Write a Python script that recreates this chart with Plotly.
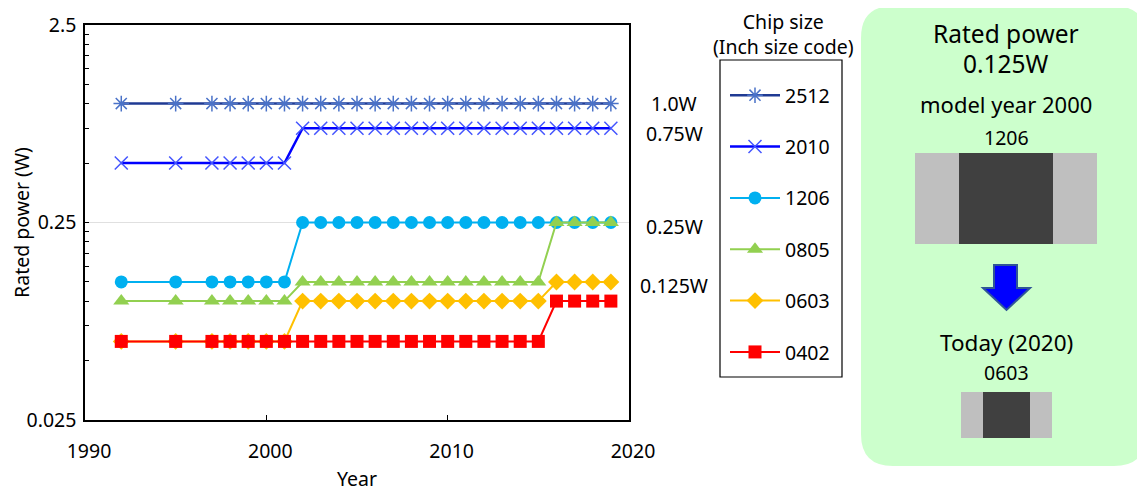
import plotly.graph_objects as go

years = [1992, 1995, 1997, 1998, 1999, 2000, 2001, 2002, 2003, 2004, 2005, 2006, 2007,
         2008, 2009, 2010, 2011, 2012, 2013, 2014, 2015, 2016, 2017, 2018, 2019]

# rated power (W) per chip size code
p2512 = [1.0] * 25
p2010 = [0.5] * 7 + [0.75] * 18
p1206 = [0.125] * 7 + [0.25] * 18
p0805 = [0.1] * 7 + [0.125] * 14 + [0.25] * 4
p0603 = [0.0625] * 7 + [0.1] * 14 + [0.125] * 4
p0402 = [0.0625] * 21 + [0.1] * 4

series_names = ["2512", "2010", "1206", "0805", "0603", "0402"]
series_vals = [p2512, p2010, p1206, p0805, p0603, p0402]
line_colors = ["#1F3A93", "#0000FF", "#00B0F0", "#92D050", "#FFC000", "#FF0000"]
marker_colors = ["#4A72C8", "#4455FF", "#00B0F0", "#92D050", "#FFC000", "#FF0000"]
symbols = ["asterisk-open", "x-thin-open", "circle", "triangle-up", "diamond", "square"]
msizes = [13, 13, 13, 14, 13, 13]
lwidths = [2.5, 2.5, 2, 2, 2, 2]

y_major = [0.025, 0.25, 2.5]
y_major_text = ["0.025", "0.25", "2.5"]
y_minor = [0.05, 0.075, 0.1, 0.125, 0.15, 0.175, 0.2, 0.225,
           0.5, 0.75, 1.0, 1.25, 1.5, 1.75, 2.0, 2.25]
x_ticks = [1990, 2000, 2010, 2020]

# page has an 8px body margin; work in screen pixels
OFF = 8
W, H = 1145 - OFF, 500 - 2 * OFF
L, R, T, B = 85, 629, 25, 420  # plot area in screen pixels


def px(x):
    return (x - L) / (R - L)


def py(y):
    return (B - y) / (B - T)


FONT = "Noto Sans, Open Sans, sans-serif"
FS = 19.5

fig = go.Figure()
for name, vals, lc, mc, sym, ms, lw in zip(series_names, series_vals, line_colors,
                                             marker_colors, symbols, msizes, lwidths):
    open_sym = sym.endswith("open")
    fig.add_trace(go.Scatter(
        x=years, y=vals, name=name, mode="lines+markers",
        legendgroup=name,
        line=dict(color=lc, width=lw),
        marker=dict(symbol=sym, size=ms, color=mc,
                    line=dict(color=mc, width=1.5 if open_sym else 0)),
    ))

fig.update_layout(
    width=W, height=H,
    margin=dict(l=L - OFF, r=W - (R - OFF), t=T - OFF, b=H - (B - OFF),
                autoexpand=False),
    paper_bgcolor="white", plot_bgcolor="white",
    font=dict(family=FONT, size=FS, color="black"),
    showlegend=True,
    legend=dict(
        x=px(725), y=py(76), xanchor="left", yanchor="top",
        borderwidth=0, bgcolor="rgba(0,0,0,0)",
        traceorder="grouped", tracegroupgap=23,
        font=dict(size=FS), itemwidth=50,
    ),
    xaxis=dict(
        range=[1990, 2020], tickvals=x_ticks, ticks="inside", ticklen=5,
        tickcolor="black", showline=True, linecolor="black", linewidth=1.5,
        mirror=True, showgrid=False, zeroline=False, automargin=False,
        ticklabelstandoff=13, ticklabelshift=4,
        title=dict(text="Year", standoff=24, font=dict(size=FS)),
    ),
    yaxis=dict(
        type="log", range=[-1.60206, 0.39794],
        tickvals=y_major, ticktext=y_major_text, ticks="inside", ticklen=4,
        tickcolor="black", showline=True, linecolor="black", linewidth=1.5,
        mirror=True, showgrid=True, gridcolor="#E0E0E0", gridwidth=1,
        zeroline=False, ticklabelstandoff=3, automargin=False,
        minor=dict(tickmode="array", tickvals=y_minor, ticks="inside",
                   ticklen=4, tickcolor="black", showgrid=False),
        title=dict(text="Rated power (W)", standoff=18, font=dict(size=FS)),
    ),
)

annotations = []


def txt(text, x, y, size=FS):
    annotations.append(dict(text=text, x=px(x), y=py(y), xref="paper", yref="paper",
                            showarrow=False, xanchor="center", yanchor="middle",
                            font=dict(size=size, family=FONT, color="black")))


# line labels on right of plot
txt("1.0W", 674, 104)
txt("0.75W", 674, 133)
txt("0.25W", 674, 226)
txt("0.125W", 674, 285)

# legend title (two lines)
txt("Chip size<br>(Inch size code)", 783, 33.5)

shapes = []

# legend frame
shapes.append(dict(type="rect", xref="paper", yref="paper",
                   x0=px(720), x1=px(842), y0=py(377), y1=py(60),
                   fillcolor="rgba(0,0,0,0)", line=dict(color="black", width=1.2)))

# rounded green panel
x0, x1, y0, y1, r = 861, 1146, 6, 466, 32
path = (f"M {px(x0 + r)},{py(y0)} L {px(x1 - r)},{py(y0)} "
        f"Q {px(x1)},{py(y0)} {px(x1)},{py(y0 + r)} "
        f"L {px(x1)},{py(y1 - r)} Q {px(x1)},{py(y1)} {px(x1 - r)},{py(y1)} "
        f"L {px(x0 + r)},{py(y1)} Q {px(x0)},{py(y1)} {px(x0)},{py(y1 - r)} "
        f"L {px(x0)},{py(y0 + r)} Q {px(x0)},{py(y0)} {px(x0 + r)},{py(y0)} Z")
shapes.append(dict(type="path", path=path, xref="paper", yref="paper",
                   fillcolor="#CCFFCC", line=dict(width=0), layer="below"))


def rect(xa, ya, xb, yb, color):
    shapes.append(dict(type="rect", xref="paper", yref="paper",
                       x0=px(xa), x1=px(xb), y0=py(yb), y1=py(ya),
                       fillcolor=color, line=dict(width=0)))


# 1206 chip
rect(915, 153, 1097, 244, "#BFBFBF")
rect(959, 153, 1053, 244, "#404040")
# 0603 chip
rect(961, 392, 1052, 438, "#BFBFBF")
rect(983, 392, 1030, 438, "#404040")

# down arrow
arrow_pts = [(994, 265), (1017, 265), (1017, 288), (1030, 288), (1006.5, 310),
             (983, 288), (994, 288)]
apath = "M " + " L ".join(f"{px(a)},{py(b)}" for a, b in arrow_pts) + " Z"
shapes.append(dict(type="path", path=apath, xref="paper", yref="paper",
                   fillcolor="#0000FF", line=dict(color="#2F5597", width=2)))

txt("Rated power", 1006, 33, 24.5)
txt("0.125W", 1006, 64, 24.5)
txt("model year 2000", 1006, 104, 22)
txt("1206", 1006, 137, 19.5)
txt("Today (2020)", 1006, 342, 22.5)
txt("0603", 1006, 372, 19.5)

fig.update_layout(annotations=annotations, shapes=shapes)

fig.write_html("out.html")
